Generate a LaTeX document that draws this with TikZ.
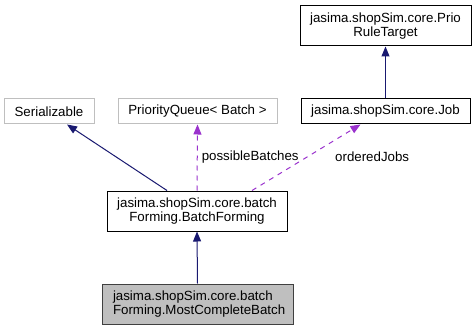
\documentclass[tikz,border=0pt]{standalone}
\usepackage{fontspec}
\setmainfont{Liberation Sans}
\usetikzlibrary{arrows, arrows.meta}

\definecolor{navyline}{HTML}{191970}
\definecolor{usageline}{HTML}{9A32CD}
\definecolor{extgray}{HTML}{BFBFBF}
\definecolor{curborder}{HTML}{404040}

\tikzset{
  classbox/.style={draw=black, line width=1pt, inner sep=0pt, align=center, font=\fontsize{13.3}{14}\selectfont},
  extbox/.style={classbox, draw=extgray},
  curbox/.style={classbox, draw=curborder, fill=extgray, align=left},
  inherit/.style={navyline, line width=1pt, -{Triangle[length=10pt,width=8pt]}},
  usage/.style={usageline, line width=1pt, dash pattern=on 5pt off 5pt, -{Triangle[length=10pt,width=8pt]}},
  edgelabel/.style={text=black, font=\fontsize{13.3}{14}\selectfont, inner sep=0pt, anchor=west}
}

\begin{document}
\begin{tikzpicture}[x=1pt,y=-1pt]
\useasboundingbox (0,0) rectangle (476,331);

\node[classbox, minimum width=171pt, minimum height=40pt] (prio) at (385.5,26) {jasima.shopSim.core.Prio\\RuleTarget};
\node[extbox, minimum width=90pt, minimum height=25pt] (ser) at (49,111.5) {Serializable};
\node[extbox, minimum width=159pt, minimum height=25pt] (pq) at (197.5,111.5) {PriorityQueue< Batch >};
\node[classbox, minimum width=169pt, minimum height=25pt] (job) at (385.5,111.5) {jasima.shopSim.core.Job};
\node[classbox, minimum width=180pt, minimum height=40pt] (bf) at (197,211) {jasima.shopSim.core.batch\\Forming.BatchForming};
\node[curbox, minimum width=191pt, minimum height=40pt, text width=169pt] (mcb) at (197.5,304) {jasima.shopSim.core.batch\\Forming.MostCompleteBatch};

\draw[inherit] (job.north) -- (prio.south); % Job extends PrioRuleTarget
\draw[inherit] ([xshift=-30pt]bf.north) -- ([xshift=18pt]ser.south); % Serializable
\draw[usage] (bf.north) -- (pq.south) node[edgelabel, pos=0.5, xshift=4pt] {possibleBatches};
\draw[usage] ([xshift=55pt]bf.north) -- ([xshift=-25pt]job.south);
\node[edgelabel] (ordlbl) at (335,157) {orderedJobs};
\draw[inherit] (mcb.north) -- (bf.south); % MostCompleteBatch extends BatchForming
\end{tikzpicture}
\end{document}
